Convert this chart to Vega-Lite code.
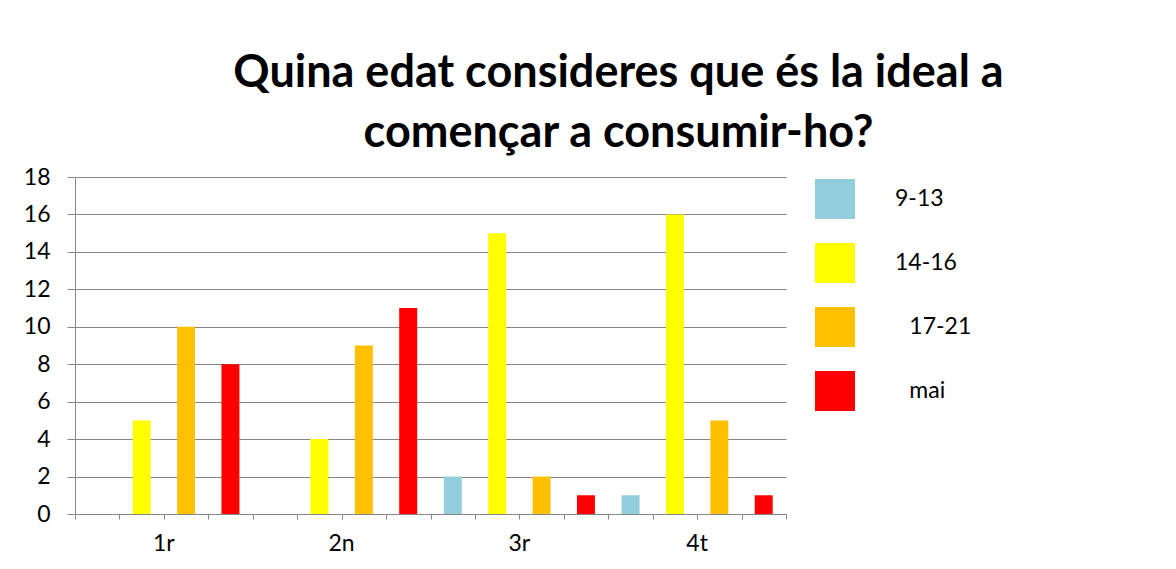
{
  "$schema": "https://vega.github.io/schema/vega-lite/v6.json",
  "autosize": {"type": "none"},
  "width": 711,
  "height": 337,
  "padding": {"left": 75, "top": 177, "right": 390, "bottom": 55},
  "background": "white",
  "title": {
    "text": ["Quina edat consideres que és la ideal a", "començar a consumir-ho?"],
    "font": "Lato",
    "fontSize": 45,
    "fontWeight": "bold",
    "color": "#000000",
    "lineHeight": 60,
    "anchor": "middle",
    "frame": "group",
    "dx": 188,
    "offset": 10
  },
  "config": {
    "font": "Lato",
    "view": {"stroke": null},
    "axis": {
      "labelFont": "Lato",
      "labelFontSize": 23,
      "labelColor": "#000000",
      "domainColor": "#868686",
      "tickColor": "#868686",
      "gridColor": "#868686",
      "domainWidth": 1,
      "gridWidth": 1,
      "tickWidth": 1
    },
    "legend": {
      "orient": "none",
      "legendX": 740,
      "legendY": 2,
      "symbolType": "square",
      "symbolSize": 1600,
      "symbolStrokeWidth": 0,
      "rowPadding": 24,
      "labelFont": "Lato",
      "labelFontSize": 23,
      "labelColor": "#000000",
      "labelOffset": 40,
      "title": null
    }
  },
  "data": {
    "values": [
      {"curs": "1r", "edat": "9-13", "n": 0},
      {"curs": "1r", "edat": "14-16", "n": 5},
      {"curs": "1r", "edat": "17-21", "n": 10},
      {"curs": "1r", "edat": "mai", "n": 8},
      {"curs": "2n", "edat": "9-13", "n": 0},
      {"curs": "2n", "edat": "14-16", "n": 4},
      {"curs": "2n", "edat": "17-21", "n": 9},
      {"curs": "2n", "edat": "mai", "n": 11},
      {"curs": "3r", "edat": "9-13", "n": 2},
      {"curs": "3r", "edat": "14-16", "n": 15},
      {"curs": "3r", "edat": "17-21", "n": 2},
      {"curs": "3r", "edat": "mai", "n": 1},
      {"curs": "4t", "edat": "9-13", "n": 1},
      {"curs": "4t", "edat": "14-16", "n": 16},
      {"curs": "4t", "edat": "17-21", "n": 5},
      {"curs": "4t", "edat": "mai", "n": 1}
    ]
  },
  "layer": [
    {
      "mark": {"type": "bar"},
      "encoding": {
        "x": {
          "field": "curs",
          "type": "nominal",
          "sort": ["1r", "2n", "3r", "4t"],
          "scale": {"paddingInner": 0, "paddingOuter": 0},
          "axis": {
            "title": null,
            "labelAngle": 0,
            "ticks": false,
            "tickSize": 0,
            "domain": true,
            "grid": false,
            "labelPadding": 18
          }
        },
        "xOffset": {
          "field": "edat",
          "type": "nominal",
          "sort": ["9-13", "14-16", "17-21", "mai"],
          "scale": {"paddingInner": 0.595, "paddingOuter": 0.3}
        },
        "y": {
          "field": "n",
          "type": "quantitative",
          "scale": {"domain": [0, 18], "nice": false},
          "axis": {
            "title": null,
            "values": [0, 2, 4, 6, 8, 10, 12, 14, 16, 18],
            "grid": true,
            "domain": true,
            "ticks": true,
            "tickSize": 8,
            "labelPadding": 17
          }
        },
        "color": {
          "field": "edat",
          "type": "nominal",
          "sort": ["9-13", "14-16", "17-21", "mai"],
          "scale": {
            "domain": ["9-13", "14-16", "17-21", "mai"],
            "range": ["#92CDDC", "#FFFF00", "#FFC000", "#FF0000"]
          },
          "legend": {
            "labelExpr": "(datum.label == '17-21' || datum.label == 'mai') ? ('\u200d\u2002\u2009' + datum.label) : datum.label",
            "labelOffset": 40
          }
        }
      }
    },
    {
      "data": {"values": [{}]},
      "mark": {"type": "rule", "opacity": 0},
      "encoding": {
        "x": {
          "datum": 0,
          "type": "quantitative",
          "scale": {"domain": [0, 16], "nice": false, "zero": false},
          "axis": {
            "orient": "bottom",
            "title": null,
            "values": [0, 1, 2, 3, 4, 5, 6, 7, 8, 9, 10, 11, 12, 13, 14, 15, 16],
            "labels": false,
            "domain": false,
            "grid": false,
            "ticks": true,
            "tickSize": 5
          }
        }
      }
    }
  ],
  "resolve": {"scale": {"x": "independent"}}
}
